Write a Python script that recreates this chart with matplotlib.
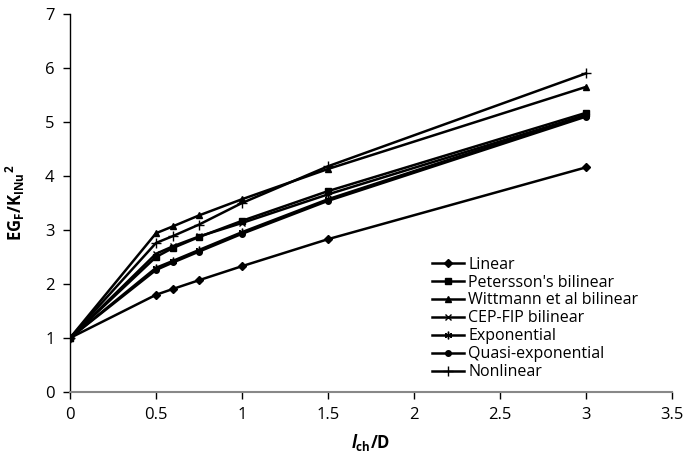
import matplotlib
matplotlib.use("Agg")
import matplotlib.pyplot as plt

plt.rcParams["font.family"] = ["Open Sans", "DejaVu Sans"]
plt.rcParams["mathtext.fontset"] = "custom"
plt.rcParams["mathtext.rm"] = "Open Sans:bold"
plt.rcParams["mathtext.bf"] = "Open Sans:bold"
plt.rcParams["mathtext.it"] = "Open Sans:bold:italic"

lch_d = [0, 0.5, 0.6, 0.75, 1, 1.5, 3]

linear = [1, 1.80, 1.91, 2.07, 2.33, 2.83, 4.16]
petersson = [1, 2.50, 2.67, 2.87, 3.17, 3.72, 5.17]
wittmann = [1, 2.94, 3.07, 3.27, 3.57, 4.13, 5.65]
cep_fip = [1, 2.56, 2.70, 2.88, 3.13, 3.66, 5.13]
exponential = [1, 2.30, 2.43, 2.63, 2.96, 3.57, 5.13]
quasi_exp = [1, 2.26, 2.40, 2.60, 2.93, 3.54, 5.10]
nonlinear = [1, 2.76, 2.89, 3.10, 3.50, 4.18, 5.90]

series = [
    ("Linear", linear, "D", 4),
    ("Petersson's bilinear", petersson, "s", 5),
    ("Wittmann et al bilinear", wittmann, "^", 5),
    ("CEP-FIP bilinear", cep_fip, "x", 4.5),
    ("Exponential", exponential, (6, 2, 0), 5.5),
    ("Quasi-exponential", quasi_exp, "o", 4),
    ("Nonlinear", nonlinear, "+", 6.5),
]

fig = plt.figure(figsize=(6.87, 4.69), dpi=100)
ax = fig.add_axes([70 / 687, 1 - 392 / 469, 602 / 687, 378 / 469])

for name, vals, mk, ms in series:
    ax.plot(lch_d, vals, color="black", lw=1.8, marker=mk, ms=ms,
            mew=1.0, label=name)

ax.set_xlim(0, 3.5)
ax.set_ylim(0, 7)
ax.set_xticks([0, 0.5, 1, 1.5, 2, 2.5, 3, 3.5])
ax.set_xticklabels(["0", "0.5", "1", "1.5", "2", "2.5", "3", "3.5"])
ax.set_yticks(range(8))

for s in ("top", "right"):
    ax.spines[s].set_visible(False)
ax.spines["left"].set_color("black")
ax.spines["left"].set_linewidth(1.0)
ax.spines["bottom"].set_color("#888888")
ax.spines["bottom"].set_linewidth(1.5)
ax.tick_params(axis="both", labelsize=12, length=5, width=1, direction="out", colors="black")
ax.tick_params(axis="x", pad=6)
ax.tick_params(axis="y", pad=6)

# superscript after the subscript, not stacked over it
ax.set_ylabel(r"$\mathrm{EG}_{\mathrm{F}}\mathrm{/K}_{\mathrm{INu}}{}^{\mathrm{2}}$", fontsize=12)
ax.set_xlabel(r"$\mathit{l}_{\mathrm{ch}}\mathrm{/D}$", fontsize=12)
ax.yaxis.set_label_coords(-0.072, 0.5)
ax.xaxis.set_label_coords(0.5, -0.105)

ax.legend(loc="upper left", bbox_to_anchor=(0.59, 0.375), frameon=False,
          fontsize=11.5, handlelength=2.0, handletextpad=0.3,
          labelspacing=0.12, borderaxespad=0)

fig.savefig("out.png", dpi=100)
